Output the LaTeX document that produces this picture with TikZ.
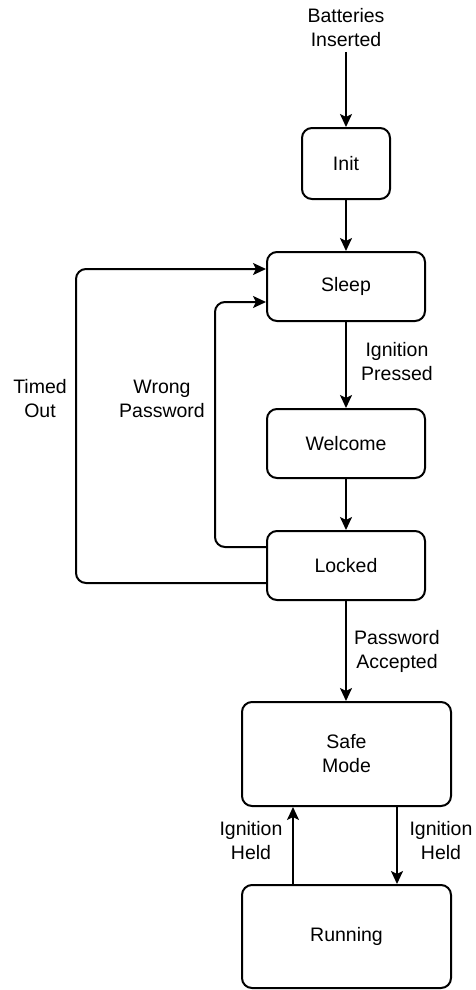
\documentclass[tikz,border=0pt]{standalone}
\usepackage{fontspec}
\setmainfont{Liberation Sans}
\usetikzlibrary{arrows.meta}
\begin{document}
\begin{tikzpicture}[x=1pt,y=-1pt,
  state/.style={draw, line width=2pt, rounded corners=10pt, inner sep=0pt,
    align=center, font=\fontsize{19.5}{24}\selectfont},
  lbl/.style={align=center, inner sep=0pt, font=\fontsize{19.5}{24}\selectfont},
  flow/.style={line width=2pt, -{Stealth[length=13pt,width=12pt,inset=3pt]}}]
\useasboundingbox (0,0) rectangle (475,990);

% states
\node[state, minimum width=88pt, minimum height=71pt] (init) at (346,163.5) {Init};
\node[state, minimum width=158pt, minimum height=69pt] (sleep) at (346,286.5) {Sleep};
\node[state, minimum width=158pt, minimum height=69pt] (welcome) at (346,443.5) {Welcome};
\node[state, minimum width=158pt, minimum height=69pt] (locked) at (346,565.5) {Locked};
\node[state, minimum width=209pt, minimum height=104pt] (safe) at (346.5,754) {Safe\\Mode};
\node[state, minimum width=209pt, minimum height=103pt] (running) at (346.5,936.5) {Running};

% entry event
\node[lbl, anchor=south] (start) at (346,47) {Batteries\\Inserted};

% transition labels
\node[lbl] (lpress) at (397,362) {Ignition\\Pressed};
\node[lbl] (lacc) at (397,651) {Password\\Accepted};
\node[lbl] (ltimed) at (40,399) {Timed\\Out};
\node[lbl] (lwrong) at (162,399) {Wrong\\Password};
\node[lbl] (lheldup) at (251,841) {Ignition\\Held};
\node[lbl] (lhelddn) at (441,841) {Ignition\\Held};

% transitions
\draw[flow] (start.south) ++(0,5) -- (init.north);
\draw[flow] (init) -- (sleep);
\draw[flow] (sleep) -- (welcome);
\draw[flow] (welcome) -- (locked);
\draw[flow] (locked.south -| 346,0) -- (safe.north -| 346,0);
\draw[flow] (safe.south -| 397,0) -- (running.north -| 397,0);
\draw[flow] (running.north -| 293,0) -- (safe.south -| 293,0);
\draw[flow, rounded corners=10pt] (locked.west |- 0,583) -- (76,583) -- (76,269) -- (sleep.west |- 0,269);
\draw[flow, rounded corners=10pt] (locked.west |- 0,547) -- (215,547) -- (215,302) -- (sleep.west |- 0,302);
\end{tikzpicture}
\end{document}
